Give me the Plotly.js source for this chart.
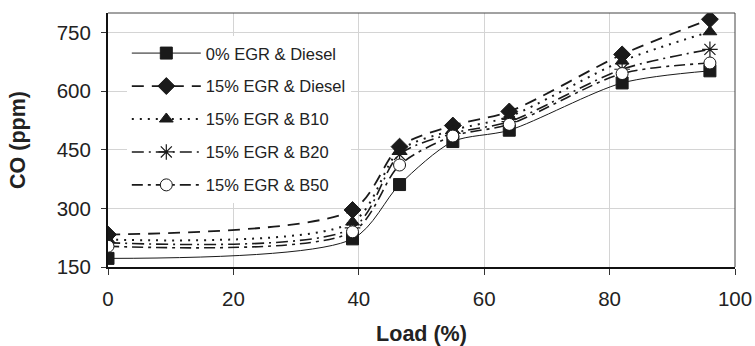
<!DOCTYPE html>
<html>
<head>
<meta charset="utf-8">
<script src="https://cdn.plot.ly/plotly-3.0.1.min.js"></script>
<style>html,body{margin:0;padding:0;background:#fff;}#chart{width:755px;height:346px;}</style>
</head>
<body>
<div id="chart"></div>
<script>
const load = [0, 39, 46.5, 55, 64, 82, 96];
const seriesNames = ["0% EGR & Diesel", "15% EGR & Diesel", "15% EGR & B10", "15% EGR & B20", "15% EGR & B50"];
const co_egr0_diesel = [172, 222, 361, 471, 500, 621, 652];
const co_egr15_diesel = [233, 296, 458, 512, 548, 694, 784];
const co_egr15_b10 = [220, 265, 448, 500, 535, 677, 752];
const co_egr15_b20 = [212, 250, 438, 492, 522, 656, 707];
const co_egr15_b50 = [203, 240, 411, 485, 515, 645, 672];
const xTicks = [0, 20, 40, 60, 80, 100];
const yTicks = [150, 300, 450, 600, 750];

const ink = "#1a1a1a";
const styles = [
  {dash: "solid", width: 1, symbol: "square", size: 12, color: ink},
  {dash: "12px,8px", width: 1.8, symbol: "diamond", size: 13, color: ink},
  {dash: "2px,6px", width: 2, symbol: "triangle-up", size: 12, color: ink},
  {dash: "12px,5px,2px,5px", width: 1.6, symbol: "asterisk-open", size: 13, color: ink},
  {dash: "11px,5px,3px,5px", width: 1.6, symbol: "circle", size: 12, color: "#ffffff"}
];
const data = [co_egr0_diesel, co_egr15_diesel, co_egr15_b10, co_egr15_b20, co_egr15_b50];

const traces = data.map((ys, i) => ({
  x: load, y: ys, name: seriesNames[i], type: "scatter", mode: "lines+markers",
  legendgroup: "g" + i,
  line: {color: ink, width: styles[i].width, dash: styles[i].dash, shape: "spline", smoothing: 0.8},
  marker: {symbol: styles[i].symbol, size: styles[i].size, color: styles[i].color,
           line: {color: ink, width: styles[i].symbol === "asterisk-open" ? 1.2 : 1}}
}));

const layout = {
  width: 755, height: 346,
  margin: {l: 108, r: 20, t: 13, b: 79},
  paper_bgcolor: "#fff", plot_bgcolor: "#fff",
  font: {family: "Liberation Sans, Arial, sans-serif", color: "#222", size: 20},
  showlegend: true,
  legend: {x: 0.03, y: 0.91, xanchor: "left", yanchor: "top", bgcolor: "#fff", borderwidth: 0,
           font: {size: 16.5, color: "#222"}, itemwidth: 69, tracegroupgap: 8.5, traceorder: "grouped"},
  xaxis: {range: [0, 100], tickvals: xTicks, ticktext: xTicks.map(String),
          showgrid: true, gridcolor: "#d4d4d4", gridwidth: 1, zeroline: false,
          showline: true, linecolor: "#111", linewidth: 2,
          ticks: "outside", ticklen: 6, tickcolor: "#333", tickwidth: 1, ticklabelstandoff: 6,
          tickfont: {size: 20.5},
          title: {text: "<b>Load (%)</b>", font: {size: 21.5}, standoff: 19}},
  yaxis: {range: [150, 800], tickvals: yTicks, ticktext: yTicks.map(String),
          showgrid: true, gridcolor: "#d4d4d4", gridwidth: 1, zeroline: false,
          showline: true, linecolor: "#111", linewidth: 2,
          ticks: "outside", ticklen: 5, tickcolor: "#333", tickwidth: 1, ticklabelstandoff: 6,
          tickfont: {size: 20.5},
          title: {text: "<b>CO (ppm)</b>", font: {size: 21.5}, standoff: 25}},
  shapes: [
    {type: "line", xref: "paper", yref: "paper", x0: 0, x1: 1, y0: 1, y1: 1, line: {color: "#444", width: 1}},
    {type: "line", xref: "paper", yref: "paper", x0: 1, x1: 1, y0: 0, y1: 1, line: {color: "#444", width: 1}}
  ]
};

Plotly.newPlot("chart", traces, layout, {displayModeBar: false, staticPlot: true});
</script>
</body>
</html>
